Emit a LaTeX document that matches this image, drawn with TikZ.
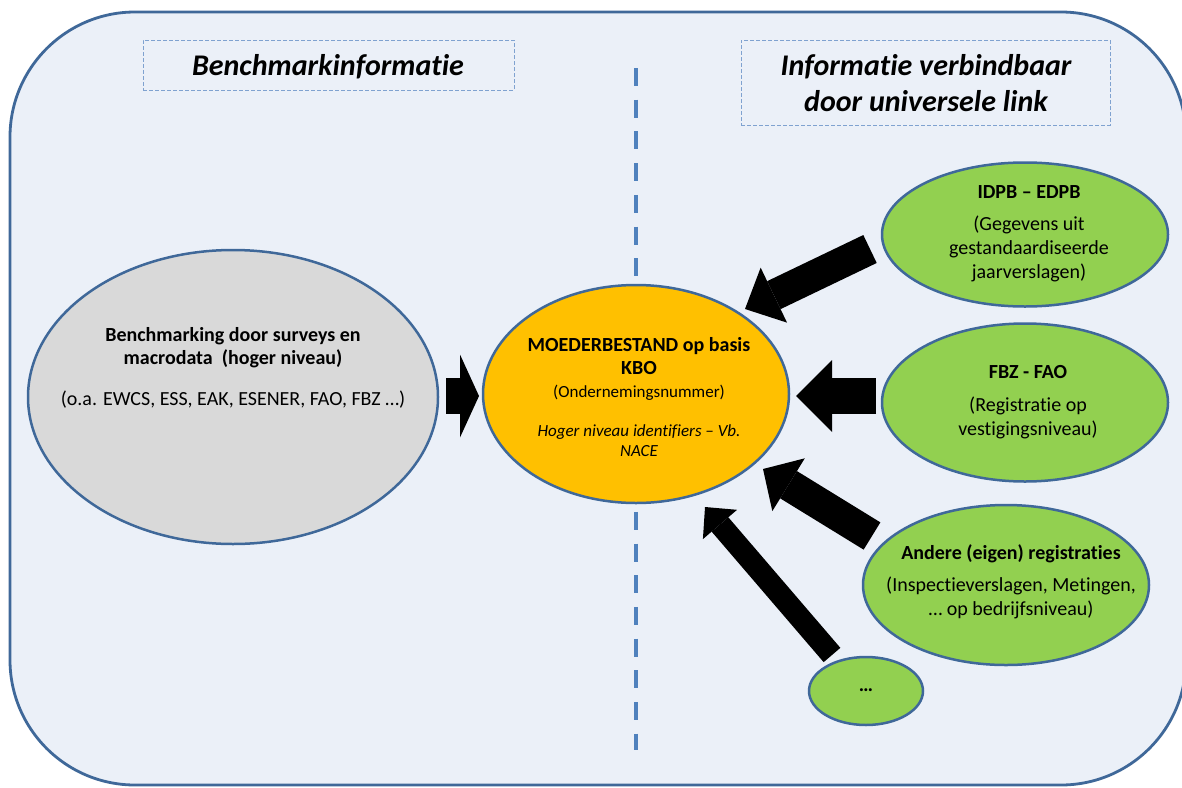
\documentclass[tikz,border=0pt]{standalone}
\usepackage{fontspec}
\setmainfont{Carlito}[Ligatures={NoCommon}]
\usetikzlibrary{shapes.geometric,arrows.meta}
\definecolor{bgfill}{HTML}{EBF0F8}
\definecolor{edge}{HTML}{3F6899}
\definecolor{dashblue}{HTML}{4F81BD}
\definecolor{hdrline}{HTML}{7FA2D0}
\definecolor{grayfill}{HTML}{D9D9D9}
\definecolor{orangefill}{HTML}{FFC000}
\definecolor{greenfill}{HTML}{92D050}
\begin{document}
\begin{tikzpicture}[x=1pt,y=-1pt,
  panel/.style={draw=edge, line width=2.8pt, fill=bgfill, rounded corners=125pt},
  hdrbox/.style={draw=hdrline, line width=0.9pt, dash pattern=on 4pt off 2pt, inner sep=0pt},
  blob/.style={ellipse, draw=edge, line width=2.5pt, inner sep=0pt},
  ln/.style={anchor=base, inner sep=0pt, font=\fontsize{20}{24}\selectfont},
  lnsmall/.style={anchor=base, inner sep=0pt, font=\fontsize{17}{20}\selectfont},
  hdr/.style={anchor=base, inner sep=0pt, font=\fontsize{30}{36}\selectfont\bfseries\itshape},
  barrow/.style n args={3}{line width=#1, black,
     -{Triangle[length=#3, width=#2, line width=0pt]}},
]
\useasboundingbox (0,0) rectangle (1182,787);
\fill[white] (0,0) rectangle (1182,787);
% outer panel
\draw[panel] (10,12) rectangle (1186,785);
% header boxes
\node[hdrbox, minimum width=371pt, minimum height=50pt] (hb1) at (328.5,65) {};
\node[hdrbox, minimum width=369pt, minimum height=85pt] (hb2) at (925.5,82.5) {};
\node[hdr] (h1) at (328,75) {Benchmarkinformatie};
\node[hdr] (h2a) at (926,75) {Informatie verbindbaar};
\node[hdr] (h2b) at (926,111) {door universele link};
% dashed divider
\coordinate (divtop) at (636,68);
\coordinate (divbot) at (636,750);
\draw[dashblue, line width=4pt, dash pattern=on 18pt off 13.7pt] (divtop) -- (divbot);
% ellipses
\node[blob, fill=grayfill, minimum width=410pt, minimum height=294pt] (bench) at (233,397) {};
\node[blob, fill=orangefill, minimum width=306pt, minimum height=218pt] (moeder) at (636,394) {};
\node[blob, fill=greenfill, minimum width=286pt, minimum height=144pt] (idpb) at (1025,234.5) {};
\node[blob, fill=greenfill, minimum width=286pt, minimum height=158pt] (fbz) at (1025,402.5) {};
\node[blob, fill=greenfill, minimum width=286pt, minimum height=160pt] (andere) at (1006,585) {};
\node[blob, fill=greenfill, minimum width=114pt, minimum height=68pt] (more) at (866,691) {};
% texts: benchmark
\node[ln] (bt1) at (233,341) {\bfseries Benchmarking door surveys en};
\node[ln] (bt2) at (233,364) {\bfseries macrodata~~(hoger niveau)};
\node[ln] (bt3) at (233,405) {(o.a. EWCS, ESS, EAK, ESENER, FAO, FBZ …)};
% texts: moederbestand
\node[ln] (mt1) at (639,351) {\bfseries MOEDERBESTAND op basis};
\node[ln] (mt2) at (639,374) {\bfseries KBO};
\node[lnsmall] (mt3) at (639,397) {(Ondernemingsnummer)};
\node[lnsmall] (mt4) at (639,436) {\itshape Hoger niveau identifiers – Vb.};
\node[lnsmall] (mt5) at (639,456) {\itshape NACE};
% texts: idpb
\node[ln] (it1) at (1029,198.5) {\bfseries IDPB – EDPB};
\node[ln] (it2) at (1029,230) {(Gegevens uit};
\node[ln] (it3) at (1029,254) {gestandaardiseerde};
\node[ln] (it4) at (1029,278) {jaarverslagen)};
% texts: fbz
\node[ln] (ft1) at (1028,378.5) {\bfseries FBZ - FAO};
\node[ln] (ft2) at (1028,411) {(Registratie op};
\node[ln] (ft3) at (1028,435) {vestigingsniveau)};
% texts: andere
\node[ln] (at1) at (1011,559) {\bfseries Andere (eigen) registraties};
\node[ln] (at2) at (1011,591) {(Inspectieverslagen, Metingen,};
\node[ln] (at3) at (1011,615) {… op bedrijfsniveau)};
% texts: more
\node[ln] (ot1) at (866,691) {\bfseries …};
% arrow end points
\coordinate (a0s) at (446,396);  \coordinate (a0e) at (479,396);
\coordinate (a1s) at (870,249);  \coordinate (a1e) at (745,309);
\coordinate (a2s) at (876,396);  \coordinate (a2e) at (796,396);
\coordinate (a3s) at (872,536);  \coordinate (a3e) at (763,469);
\coordinate (a4s) at (832,655);  \coordinate (a4e) at (705,507);
\draw[barrow={36pt}{83pt}{19pt}] (a0s) -- (a0e);
\draw[barrow={31pt}{61pt}{32pt}] (a1s) -- (a1e);
\draw[barrow={36pt}{72pt}{36pt}] (a2s) -- (a2e);
\draw[barrow={32pt}{62pt}{30pt}] (a3s) -- (a3e);
\draw[barrow={22pt}{45pt}{23pt}] (a4s) -- (a4e);
\end{tikzpicture}
\end{document}
